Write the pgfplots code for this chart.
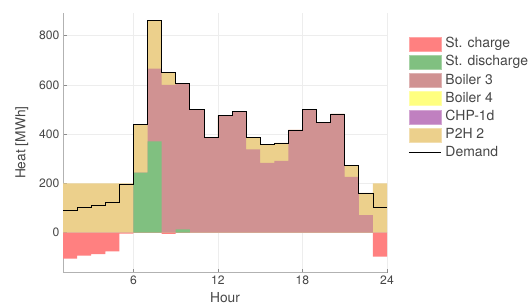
\documentclass[border=0pt]{standalone}
\usepackage{pgfplots}
\usepackage{pgfplotstable}
\pgfplotsset{compat=1.18}
\usepackage{fontspec}
\setmainfont{TeX Gyre Heros}
\definecolor{cchg}{RGB}{255,128,128}
\definecolor{cdis}{RGB}{128,192,128}
\definecolor{cb3}{RGB}{208,146,146}
\definecolor{cb4}{RGB}{255,255,128}
\definecolor{cchp}{RGB}{192,128,192}
\definecolor{cp2h}{RGB}{236,208,140}
\definecolor{txt}{RGB}{70,70,70}
\pgfplotsset{
 mypatch/.style={legend image code/.code={\draw[##1] (0bp,-7bp) rectangle (32bp,7bp);}},
 myline/.style={legend image code/.code={\draw[##1] (0bp,0bp) -- (32bp,0bp);}},
}
\pgfplotstableread{
x tot b3 dis chg dem
1 200 0 0 -106 91
2 200 0 0 -94 101
3 200 0 0 -88 109
4 200 0 0 -76 124
5 200 0 0 -4 197
6 440 243 243 0 440
7 862 666 370 0 862
8 650 600 0 -5 650
9 605 605 13 0 605
10 500 500 0 0 500
11 387 387 0 0 387
12 475 475 0 0 475
13 493 493 0 0 493
14 387 338 0 0 387
15 358 283 0 0 358
16 364 291 0 0 364
17 417 417 0 0 417
18 500 500 0 0 500
19 449 449 0 0 449
20 482 482 0 0 482
21 274 226 0 0 274
22 161 71 0 0 161
23 200 0 0 -98 101
24 200 0 0 -98 101
}\data
\begin{document}
\begin{tikzpicture}
\useasboundingbox (0,0) rectangle (530bp,307bp);
\begin{axis}[
 at={(63bp,34.3bp)}, anchor=south west,
 scale only axis, width=324bp, height=260bp,
 xmin=1, xmax=24, ymin=-163, ymax=893,
 axis lines*=left,
 axis line style={draw=black!30, line width=0.6bp},
 xtick={6,12,18,24}, ytick={0,200,400,600,800},
 tick align=inside, major tick length=4bp,
 tick style={draw=black!45, line width=0.5bp},
 grid=major, major grid style={draw=black!7, line width=0.6bp},
 /pgf/number format/assume math mode=true,
 ticklabel style={font=\fontsize{12.2}{14}\selectfont, text=txt},
 xlabel={Hour}, ylabel={Heat [MWh]},
 every axis x label/.style={at={(axis description cs:0.5,-0.097)}, anchor=center,
   font=\fontsize{13.8}{16}\selectfont, text=txt},
 every axis y label/.style={at={(axis description cs:-0.127,0.5)}, rotate=90, anchor=center,
   font=\fontsize{13.8}{16}\selectfont, text=txt},
 legend style={at={(axis description cs:1.0657,0.9077)}, anchor=north west, draw=none, fill=none,
   font=\fontsize{14}{16}\selectfont, text=txt, row sep=3.8bp, column sep=4.3bp,
   nodes={inner sep=0pt, text height=10.3bp, text depth=3bp},
   cells={anchor=west}, inner sep=0pt},
 clip=false,
]
\addplot[const plot, fill=cp2h, draw=none, forget plot] table[x=x,y=tot] {\data} \closedcycle;
\addplot[const plot, fill=cb3, draw=none, forget plot] table[x=x,y=b3] {\data} \closedcycle;
\addplot[const plot, fill=cdis, draw=none, forget plot] table[x=x,y=dis] {\data} \closedcycle;
\addplot[const plot, fill=cchg, draw=none, forget plot] table[x=x,y=chg] {\data} \closedcycle;
\addplot[const plot, draw=black, line width=0.7bp, forget plot] table[x=x,y=dem] {\data};
\addlegendimage{mypatch, fill=cchg, draw=cchg!70!white}
\addlegendentry{St. charge}
\addlegendimage{mypatch, fill=cdis, draw=cdis!70!white}
\addlegendentry{St. discharge}
\addlegendimage{mypatch, fill=cb3, draw=cb3!70!white}
\addlegendentry{Boiler 3}
\addlegendimage{mypatch, fill=cb4, draw=cb4!70!white}
\addlegendentry{Boiler 4}
\addlegendimage{mypatch, fill=cchp, draw=cchp!70!white}
\addlegendentry{CHP-1d}
\addlegendimage{mypatch, fill=cp2h, draw=cp2h!70!white}
\addlegendentry{P2H 2}
\addlegendimage{myline, draw=black, line width=0.7bp}
\addlegendentry{Demand}
\end{axis}
\end{tikzpicture}
\end{document}
